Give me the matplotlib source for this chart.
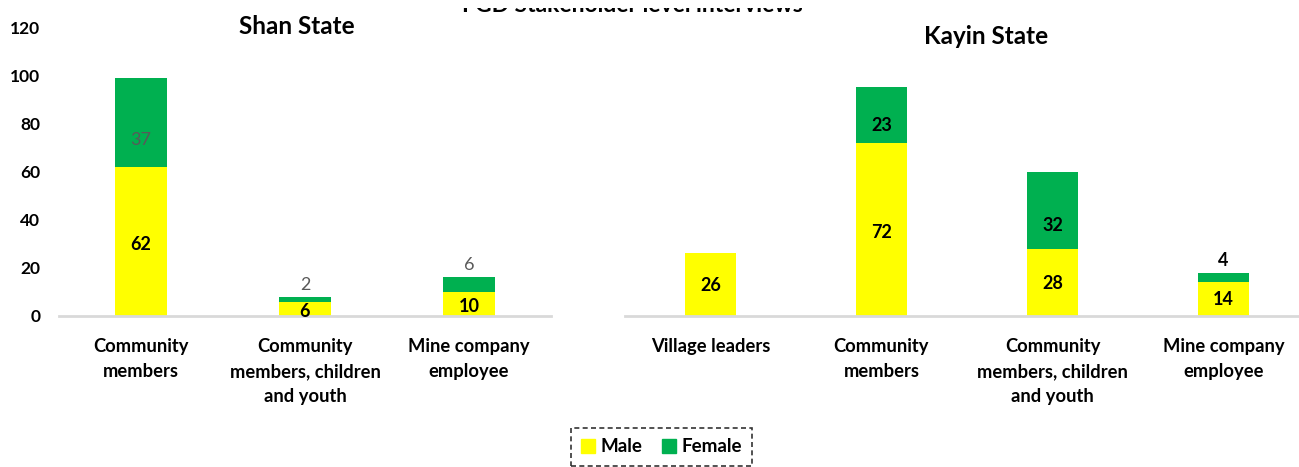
import matplotlib
matplotlib.use("Agg")
import matplotlib.pyplot as plt
from matplotlib.patches import Patch, Rectangle

plt.rcParams['font.family'] = ['Lato', 'DejaVu Sans']

shan_categories = ["Community\nmembers", "Community\nmembers, children\nand youth", "Mine company\nemployee"]
shan_male = [62, 6, 10]
shan_female = [37, 2, 6]

kayin_categories = ["Village leaders", "Community\nmembers", "Community\nmembers, children\nand youth", "Mine company\nemployee"]
kayin_male = [26, 72, 28, 14]
kayin_female = [0, 23, 32, 4]

yticks = [0, 20, 40, 60, 80, 100, 120]

YELLOW = "#FFFF00"
GREEN = "#00B050"
GREY_TXT = "#595959"

W, H = 1299, 467
fig = plt.figure(figsize=(W / 100, H / 100), dpi=100)

def ax_rect(x0, x1, y_bottom_px, y_top_px):
    return [x0 / W, (H - y_bottom_px) / H, (x1 - x0) / W, (y_bottom_px - y_top_px) / H]

ax1 = fig.add_axes(ax_rect(59, 551, 316, 27))
ax2 = fig.add_axes(ax_rect(625, 1309, 316, 27))

LBL = 13
CAT = 13.2
YF = 0.48   # relative label height inside yellow segment
GF = 0.30   # relative label height inside green segment

def style(ax, n, show_y):
    ax.set_ylim(0, 120)
    ax.set_xlim(-0.5, n - 0.5)
    for s in ["top", "right", "left"]:
        ax.spines[s].set_visible(False)
    ax.spines["bottom"].set_color("#D9D9D9")
    ax.spines["bottom"].set_linewidth(2)
    ax.tick_params(axis="x", length=0, pad=16)
    ax.tick_params(axis="y", length=0, pad=13.5)
    ax.set_yticks(yticks)
    if show_y:
        ax.set_yticklabels([str(t) for t in yticks], fontsize=12.5, fontweight="bold")
    else:
        ax.set_yticklabels([])
    ax.patch.set_visible(False)

# Shan
x1 = range(len(shan_categories))
ax1.bar(x1, shan_male, width=0.32, color=YELLOW)
ax1.bar(x1, shan_female, width=0.32, bottom=shan_male, color=GREEN)
style(ax1, len(shan_categories), True)
ax1.set_xticks(list(x1))
ax1.set_xticklabels(shan_categories, fontsize=CAT, fontweight="bold", linespacing=1.58, va="top")
for i, (m, f) in enumerate(zip(shan_male, shan_female)):
    if i == 0:
        ax1.text(i, m * YF, str(m), ha="center", va="center", fontsize=LBL, fontweight="bold")
        ax1.text(i, m + f * GF, str(f), ha="center", va="center", fontsize=LBL, color=GREY_TXT)
    else:
        ax1.text(i, m / 2 - 1, str(m), ha="center", va="center", fontsize=LBL, fontweight="bold")
        ax1.text(i, m + f + 5, str(f), ha="center", va="center", fontsize=LBL, color=GREY_TXT)

# Kayin
x2 = range(len(kayin_categories))
ax2.bar(x2, kayin_male, width=0.3, color=YELLOW)
ax2.bar(x2, kayin_female, width=0.3, bottom=kayin_male, color=GREEN)
style(ax2, len(kayin_categories), False)
ax2.set_xticks(list(x2))
ax2.set_xticklabels(kayin_categories, fontsize=CAT, fontweight="bold", linespacing=1.58, va="top")
for i, (m, f) in enumerate(zip(kayin_male, kayin_female)):
    ax2.text(i, m * YF, str(m), ha="center", va="center", fontsize=LBL, fontweight="bold")
    if f > 0:
        if f >= 10:
            ax2.text(i, m + f * GF, str(f), ha="center", va="center", fontsize=LBL, fontweight="bold")
        else:
            ax2.text(i, m + f + 5, str(f), ha="center", va="center", fontsize=LBL, fontweight="bold")

# panel titles
fig.text(297 / W, 1 - 27 / H, "Shan State", ha="center", va="center", fontsize=17.5, fontweight="bold")
fig.text(986 / W, 1 - 37 / H, "Kayin State", ha="center", va="center", fontsize=17.5, fontweight="bold")

# main title, cropped at the top edge as in the source
fig.text(632 / W, 1 - 12 / H, "FGD Stakeholder level interviews", ha="center", va="baseline",
         fontsize=16.5, fontweight="bold")
fig.patches.append(Rectangle((0, 1 - 8 / H), 1, 8 / H, transform=fig.transFigure,
                             facecolor="white", edgecolor="none", zorder=10))

# legend
leg = fig.legend(handles=[Patch(color=YELLOW, label="Male"), Patch(color=GREEN, label="Female")],
                 loc="upper center", bbox_to_anchor=(661.5 / W, 1 - 428 / H), ncol=2,
                 frameon=True, fancybox=False, prop={"weight": "bold", "size": 13.5},
                 handlelength=0.75, handleheight=0.75, handletextpad=0.3, columnspacing=1.0,
                 borderpad=0.55, borderaxespad=0)
frame = leg.get_frame()
frame.set_edgecolor("black")
frame.set_linestyle((0, (3, 2)))
frame.set_linewidth(1.2)

fig.savefig("out.png", dpi=100)
